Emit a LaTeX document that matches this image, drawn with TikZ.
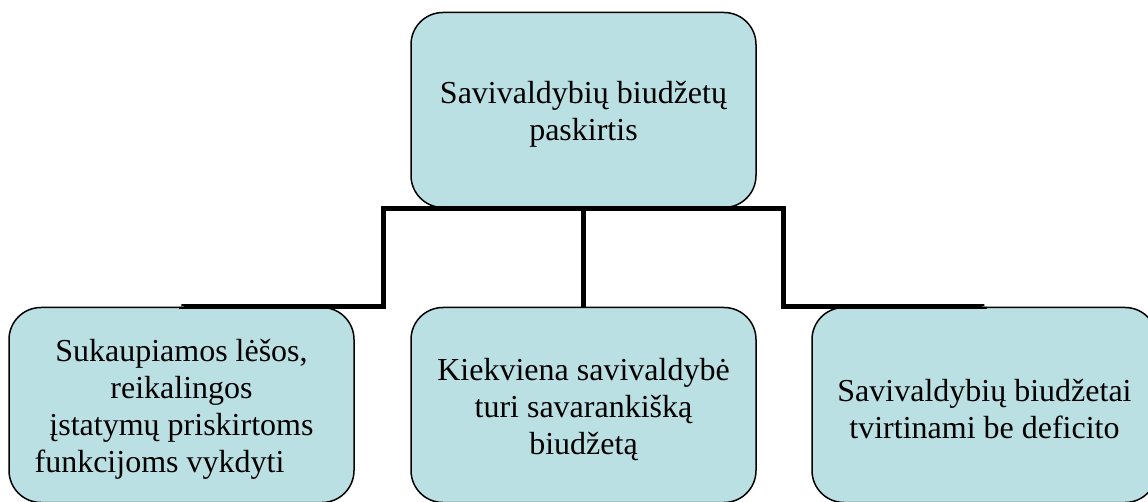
\documentclass[tikz,border=0pt]{standalone}
\usepackage{fontspec}
\setmainfont{Liberation Serif}
\usetikzlibrary{positioning}

\definecolor{boxfill}{RGB}{187,224,227}
\newcommand{\boxstrut}{\rule{0pt}{31pt}}

\tikzstyle{box}  = [rectangle, draw, line width=1.5pt, fill=boxfill, rounded corners=32pt, minimum width=345pt, minimum height=195pt, inner sep=0pt, align=center, font=\fontsize{32}{37}\selectfont]
\tikzstyle{link} = [line width=5pt, line join=miter]

\begin{document}
\begin{tikzpicture}
\path [use as bounding box, clip] (0pt,0pt) rectangle (1148pt,-502pt);

\node (top)   [box] at (583.5pt,-110pt) {\boxstrut Savivaldybių biudžetų\\ paskirtis};
\node (mid)   [box, node distance=295pt, below of=top]   {\boxstrut Kiekviena savivaldybė\\ turi savarankišką\\ biudžetą};
\node (left)  [box, node distance=402pt, left of=mid]    {\boxstrut Sukaupiamos lėšos,\\ reikalingos\\ įstatymų priskirtoms\\ funkcijoms vykdyti\hspace*{44pt}};
\node (right) [box, node distance=401pt, right of=mid]   {\boxstrut Savivaldybių biudžetai\\ tvirtinami be deficito};

\coordinate (kneeL) at (383pt,-307pt);
\coordinate (kneeR) at (783pt,-307pt);

\draw [link] (top.south) -| (kneeL) -| (left.north);
\draw [link] (top.south) -- (mid.north);
\draw [link] (top.south) -| (kneeR) -| (right.north);
\end{tikzpicture}
\end{document}
